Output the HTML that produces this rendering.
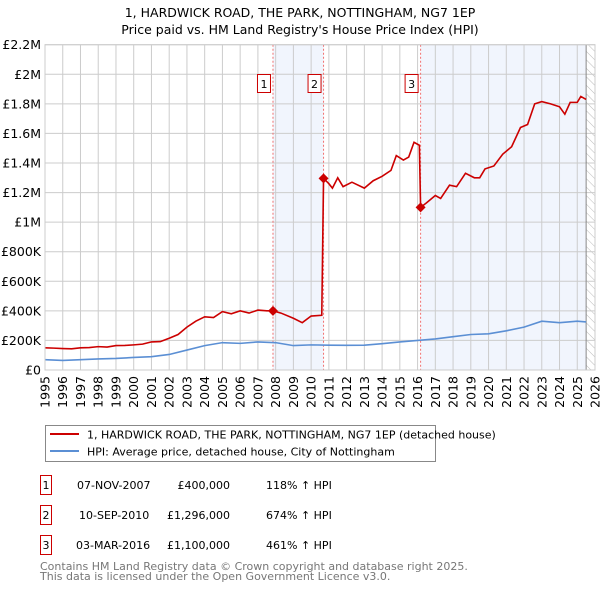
<!DOCTYPE html>
<html><head><meta charset="utf-8"><style>
body{margin:0;background:#fff;font-family:"Liberation Sans","DejaVu Sans",sans-serif;}
svg text{font-family:"DejaVu Sans","Liberation Sans",sans-serif;}
</style></head><body>
<svg id="c" width="600" height="590" viewBox="0 0 600 590" xmlns="http://www.w3.org/2000/svg">
<defs><pattern id="h" width="6" height="6" patternUnits="userSpaceOnUse" patternTransform="rotate(-45)"><line x1="0" y1="0" x2="0" y2="6" stroke="#bbb" stroke-width="1"/></pattern></defs>
<text x="300" y="17" font-size="12.5" text-anchor="middle">1, HARDWICK ROAD, THE PARK, NOTTINGHAM, NG7 1EP</text>
<text x="300" y="34" font-size="12.5" text-anchor="middle">Price paid vs. HM Land Registry's House Price Index (HPI)</text>
<g id="plot"></g>
<g>
<rect x="45.5" y="425.5" width="390" height="36" fill="#fff" stroke="#888"/>
<line x1="50" y1="434" x2="79" y2="434" stroke="#cc0000" stroke-width="2"/>
<text x="87" y="438.5" font-size="11">1, HARDWICK ROAD, THE PARK, NOTTINGHAM, NG7 1EP (detached house)</text>
<line x1="50" y1="451" x2="79" y2="451" stroke="#5b8fd4" stroke-width="2"/>
<text x="87" y="455.5" font-size="11">HPI: Average price, detached house, City of Nottingham</text>
</g>
<g font-size="11">
<rect x="40.5" y="475.5" width="11" height="19" fill="none" stroke="#cc0000"/><text x="46" y="489" text-anchor="middle">1</text>
<text x="77" y="489">07-NOV-2007</text><text x="230" y="489" text-anchor="end">£400,000</text><text x="266" y="489">118% ↑ HPI</text>
<rect x="40.5" y="505.5" width="11" height="19" fill="none" stroke="#cc0000"/><text x="46" y="519" text-anchor="middle">2</text>
<text x="79" y="519">10-SEP-2010</text><text x="230" y="519" text-anchor="end">£1,296,000</text><text x="266" y="519">674% ↑ HPI</text>
<rect x="40.5" y="535.5" width="11" height="19" fill="none" stroke="#cc0000"/><text x="46" y="549" text-anchor="middle">3</text>
<text x="76" y="549">03-MAR-2016</text><text x="230" y="549" text-anchor="end">£1,100,000</text><text x="266" y="549">461% ↑ HPI</text>
</g>
<text x="40" y="570" font-size="11" fill="#777">Contains HM Land Registry data © Crown copyright and database right 2025.</text>
<text x="40" y="580" font-size="11" fill="#777">This data is licensed under the Open Government Licence v3.0.</text>
</svg>
<script>
const yTicks=[0,200,400,600,800,1000,1200,1400,1600,1800,2000,2200];
const yTickLabels=["£0","£200K","£400K","£600K","£800K","£1M","£1.2M","£1.4M","£1.6M","£1.8M","£2M","£2.2M"];
const years=[1995,1996,1997,1998,1999,2000,2001,2002,2003,2004,2005,2006,2007,2008,2009,2010,2011,2012,2013,2014,2015,2016,2017,2018,2019,2020,2021,2022,2023,2024,2025,2026];
const saleDates=[2007.85,2010.7,2016.17];
const salePrices=[400,1296,1100];
const saleLabels=["1","2","3"];
const redT=[1995,1995.5,1996,1996.5,1997,1997.5,1998,1998.5,1999,1999.5,2000,2000.5,2001,2001.5,2002,2002.5,2003,2003.5,2004,2004.5,2005,2005.5,2006,2006.5,2007,2007.5,2007.85,2008.3,2009,2009.5,2010,2010.6,2010.7,2011,2011.2,2011.5,2011.8,2012.3,2013,2013.5,2014,2014.5,2014.8,2015.2,2015.5,2015.8,2016.1,2016.17,2016.5,2017,2017.3,2017.8,2018.2,2018.7,2019.2,2019.5,2019.8,2020.3,2020.8,2021.3,2021.8,2022.2,2022.6,2023,2023.5,2024,2024.3,2024.6,2025,2025.2,2025.5];
const redV=[150,148,145,143,150,152,158,155,165,166,170,175,190,192,215,240,290,330,360,355,395,380,400,385,405,400,400,385,350,320,365,370,1296,1260,1230,1300,1240,1270,1230,1280,1310,1350,1450,1420,1440,1540,1520,1100,1130,1180,1160,1250,1240,1330,1300,1300,1360,1380,1460,1510,1640,1660,1800,1815,1800,1780,1730,1810,1810,1850,1830];
const hpiT=[1995,1996,1997,1998,1999,2000,2001,2002,2003,2004,2005,2006,2007,2008,2009,2010,2011,2012,2013,2014,2015,2016,2017,2018,2019,2020,2021,2022,2023,2024,2025,2025.5];
const hpiV=[70,65,70,75,78,85,90,105,135,165,185,180,190,185,165,170,168,167,168,178,190,200,210,225,240,245,265,290,330,320,330,325];
const L=45,R=595,T=44.7,B=370;
const X=t=>L+(t-1995)/31*(R-L);
const Y=v=>B-v/2200*(B-T);
const NS="http://www.w3.org/2000/svg";
const g=document.getElementById('plot');
function mk(tag,a,parent){const e=document.createElementNS(NS,tag);for(const k in a)e.setAttribute(k,a[k]);(parent||g).appendChild(e);return e;}
// shading
let e;
e=mk('rect',{x:X(saleDates[0]),y:T,width:X(saleDates[1])-X(saleDates[0]),height:B-T,fill:'#eef2fc',opacity:0.8});


e=mk('rect',{x:X(saleDates[2]),y:T,width:X(2025.5)-X(saleDates[2]),height:B-T,fill:'#eef2fc',opacity:0.8});


e=mk('rect',{x:X(2025.5),y:T,width:R-X(2025.5),height:B-T,fill:'url(#h)'});


// grid
yTicks.forEach((v,i)=>{
 e=mk('line',{x1:L,x2:R,y1:Y(v),y2:Y(v),stroke:'#ccc','stroke-width':1});
 
 
 e=mk('text',{x:L-4,y:Y(v)+4.5,'font-size':12.5,'text-anchor':'end'});e.textContent=yTickLabels[i];
 
 
});
years.forEach(yr=>{
 e=mk('line',{x1:X(yr),x2:X(yr),y1:T,y2:B,stroke:'#ccc','stroke-width':1});
 
 
 e=mk('text',{x:0,y:0,'font-size':12.5,'text-anchor':'end',transform:`translate(${X(yr)+4.5},${B+6}) rotate(-90)`});e.textContent=yr;
 
 
});
e=mk('line',{x1:X(2025.5),x2:X(2025.5),y1:T,y2:B,stroke:'#888','stroke-width':1});


// sale lines
saleDates.forEach((d,i)=>{
 e=mk('line',{x1:X(d),x2:X(d),y1:T,y2:B,stroke:'#f07070','stroke-width':1,'stroke-dasharray':'2,2'});
 
 
 e=mk('rect',{x:X(d)-15.5,y:74.5,width:13,height:18,fill:'#fff',stroke:'#cc0000'});
 
 
 e=mk('text',{x:X(d)-9,y:88,'font-size':11,'text-anchor':'middle'});e.textContent=saleLabels[i];
 
 
});
// series
e=mk('polyline',{points:hpiT.map((t,i)=>X(t)+','+Y(hpiV[i])).join(' '),fill:'none',stroke:'#5b8fd4','stroke-width':1.6});


e=mk('polyline',{points:redT.map((t,i)=>X(t)+','+Y(redV[i])).join(' '),fill:'none',stroke:'#cc0000','stroke-width':1.6});


saleDates.forEach((d,i)=>{
 const cx=X(d),cy=Y(salePrices[i]);
 e=mk('polygon',{points:`${cx},${cy-5} ${cx+5},${cy} ${cx},${cy+5} ${cx-5},${cy}`,fill:'#cc0000'});
 
 
});
e=mk('rect',{x:L,y:T,width:R-L,height:B-T,fill:'none',stroke:'#ccc'});


</script>
</body></html>
